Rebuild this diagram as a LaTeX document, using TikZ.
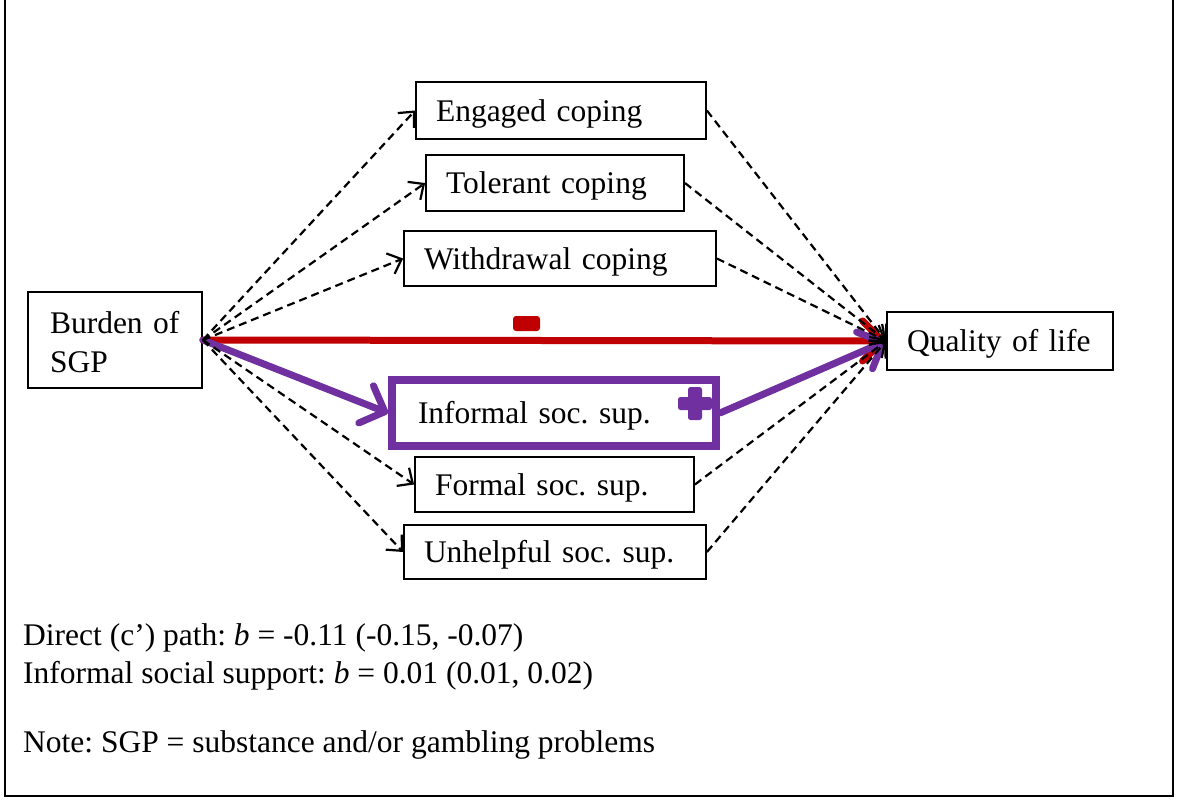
\documentclass[tikz,border=0pt]{standalone}
\usepackage{fontspec}
\setmainfont{Liberation Serif}
\frenchspacing
\usetikzlibrary{arrows.meta}
\definecolor{pathred}{HTML}{C00000}
\definecolor{pathpurple}{HTML}{7030A0}
\tikzset{
  lbl/.style={font=\fontsize{31.5}{39}\selectfont},
  box/.style={lbl, draw, line width=1.8pt, inner xsep=20pt, inner ysep=0pt, align=left,
    text height=24pt, text depth=3pt},
  med/.style={draw, line width=2.2pt, dash pattern=on 8pt off 5pt,
    -{Straight Barb[length=12pt,width=22pt,line width=2.2pt]}},
  sigpath/.style={line width=7pt, line cap=round,
    -{Straight Barb[length=20pt,width=40pt,line width=7pt,round]}},
}
\begin{document}
\begin{tikzpicture}[x=1pt,y=-1pt]
\useasboundingbox (0,0) rectangle (1177,803);
\clip (0,0) rectangle (1177,803);
% open frame
\draw[line width=2pt] (5,-10) -- (5,796) -- (1173,796) -- (1173,-10);

% nodes
\node[box, minimum width=174pt, minimum height=96pt, text width=130pt, inner xsep=22pt,
  text height=25pt, text depth=39pt] (burden) at (115,340) {Burden of\\SGP};
\node[box, minimum width=226pt, minimum height=58pt, text width=186pt] (qol) at (1000,341) {Quality of life};
\node[box, minimum width=290pt, minimum height=57pt, text width=250pt] (eng) at (561,110.5) {Engaged coping};
\node[box, minimum width=258pt, minimum height=56pt, text width=218pt] (tol) at (555,183) {Tolerant coping};
\node[box, minimum width=312pt, minimum height=55pt, text width=272pt] (wdr) at (560,258.5) {Withdrawal coping};
\node[box, draw=pathpurple, line width=8pt, inner xsep=26pt, minimum width=324pt, minimum height=66pt, text width=272pt] (inf) at (554,413) {Informal soc. sup.};
\node[box, minimum width=279pt, minimum height=55pt, text width=239pt] (frm) at (554.5,484.5) {Formal soc. sup.};
\node[box, minimum width=302pt, minimum height=54pt, text width=262pt] (unh) at (555,552) {Unhelpful soc. sup.};

% direct and informal support paths
\draw[sigpath, draw=pathred] (burden.east) -- (qol.west);
\draw[sigpath, draw=pathpurple] (burden.east) -- (inf.west);
\draw[sigpath, draw=pathpurple] (inf.east) -- (qol.west);

% sign markers
\node[fill=pathred, rounded corners=3pt, minimum width=27pt, minimum height=15pt, inner sep=0pt] (minus) at (526.5,323.5) {};
\fill[pathpurple, rounded corners=2.5pt] (688,387) rectangle (702,420);
\fill[pathpurple, rounded corners=2.5pt] (678,397) rectangle (712,410);

% mediator paths
\foreach \m in {eng,tol,wdr,frm,unh}{
  \draw[med] (burden.east) -- (\m.west);
  \draw[med] (\m.east) -- (qol.west);
}

% notes
\node[lbl, anchor=base west, inner sep=0pt] (n1) at (23,645) {Direct (c’) path: \textit{b} = -0.11 (-0.15, -0.07)};
\node[lbl, anchor=base west, inner sep=0pt] (n2) at (23,683) {Informal social support: \textit{b} = 0.01 (0.01, 0.02)};
\node[lbl, anchor=base west, inner sep=0pt] (n3) at (23,752) {Note: SGP = substance and/or gambling problems};
\end{tikzpicture}
\end{document}
